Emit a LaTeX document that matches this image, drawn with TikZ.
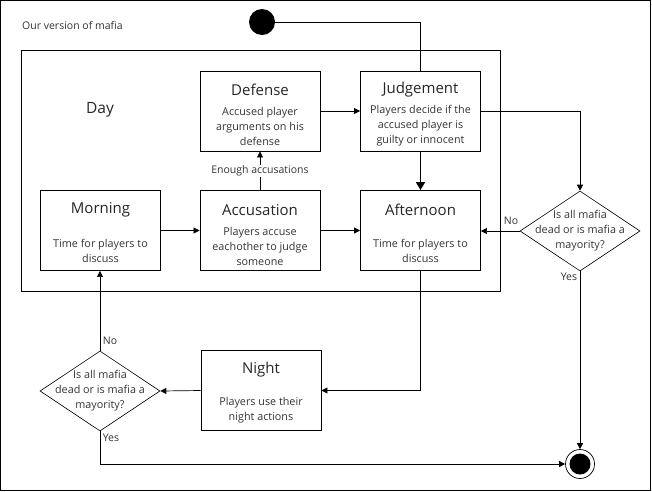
\documentclass[tikz,border=0pt]{standalone}
\usepackage{fontspec}
\setmainfont{Open Sans}
\usetikzlibrary{arrows.meta,shapes.geometric}
\begin{document}
\begin{tikzpicture}[x=1pt,y=-1pt,
 box/.style={draw, line width=0.9pt, minimum width=120pt, minimum height=80pt, inner sep=0pt},
 ttl/.style={font=\fontsize{15}{17}\selectfont, text=black!85},
 desc/.style={font=\fontsize{10.8}{15}\selectfont, align=center, text=black!80, inner sep=0pt},
 lbl/.style={font=\fontsize{10.5}{12}\selectfont, text=black!80, inner sep=1pt},
 dec/.style={draw, diamond, minimum width=120pt, minimum height=80pt, inner sep=0pt, line width=0.6pt},
 arr/.style={-{Triangle[length=6pt,width=6pt]}, line width=0.7pt},
 tarr/.style={-{Triangle[length=8pt,width=9pt]}, line width=1.6pt},
]
\useasboundingbox (0,0) rectangle (652,491);
\draw[line width=1pt] (0.5,0.5) rectangle (650.5,490.5);
\node[lbl, anchor=west] (title) at (21,26) {Our version of mafia};
\node[draw, line width=0.9pt, minimum width=479pt, minimum height=241pt, anchor=north west, inner sep=0pt] (day) at (21,50) {};
\node[font=\fontsize{15.5}{17}\selectfont, text=black!85] (daylbl) at (100,110) {Day};

\node[circle, fill=black, minimum size=26pt, inner sep=0pt] (start) at (262,22) {};

\node[box] (defense) at (260,111) {};
\node[ttl] (defT) at (260,90) {Defense};
\node[desc] (defD) at (260,126) {Accused player\\arguments on his\\defense};

\node[box] (judgement) at (420.5,111) {};
\node[ttl] (judT) at (420.5,90) {Judgement};
\node[desc] (judD) at (420.5,126) {Players decide if the\\accused player is\\guilty or innocent};

\node[box] (morning) at (100.5,230.5) {};
\node[ttl] (morT) at (100.5,210) {Morning};
\node[desc] (morD) at (100.5,250.5) {Time for players to\\discuss};

\node[box] (accusation) at (260,230.5) {};
\node[ttl] (accT) at (260,210) {Accusation};
\node[desc] (accD) at (260,246) {Players accuse\\eachother to judge\\someone};

\node[box] (afternoon) at (420.5,230.5) {};
\node[ttl] (aftT) at (420.5,210) {Afternoon};
\node[desc] (aftD) at (420.5,250.5) {Time for players to\\discuss};

\node[box] (night) at (261,390.5) {};
\node[ttl] (nigT) at (261,370) {Night};
\node[desc] (nigD) at (261,410.5) {Players use their\\night actions};

\node[dec] (dec1) at (580,231) {};
\node[desc] (dec1T) at (580,231) {Is all mafia\\dead or is mafia a\\mayority?};
\node[dec] (dec2) at (100,391) {};
\node[desc] (dec2T) at (100,391) {Is all mafia\\dead or is mafia a\\mayority?};

\node[circle, draw, line width=0.7pt, minimum size=29pt, inner sep=0pt] (endc) at (580,464) {};
\node[circle, fill=black, minimum size=21pt, inner sep=0pt] (endi) at (580,464) {};

\draw[line width=0.9pt] (start.east) -| (judgement.north);
\draw[arr] (defense) -- (judgement);
\draw[arr] (accusation) -- (defense) node[midway, lbl, fill=white] (enough) {Enough accusations};
\draw[tarr] (judgement) -- (afternoon);
\draw[arr] (judgement.east) -| (dec1.north);
\draw[arr] (morning) -- (accusation);
\draw[arr] (accusation) -- (afternoon);
\draw[arr] (dec1.west) -- (dec1.west -| afternoon.east);
\draw[arr] (dec1.south) -- (endc.north);
\draw[arr] (afternoon.south) |- (night.east);
\draw[arr] (night.west) -- (dec2.east);
\draw[arr] (dec2.north) -- (dec2.north |- morning.south);
\draw[arr] (dec2.south) |- (endc.west);

\node[lbl] (no1) at (511,221) {No};
\node[lbl] (yes1) at (569,277) {Yes};
\node[lbl] (no2) at (110,341) {No};
\node[lbl] (yes2) at (111,438) {Yes};
\end{tikzpicture}
\end{document}
